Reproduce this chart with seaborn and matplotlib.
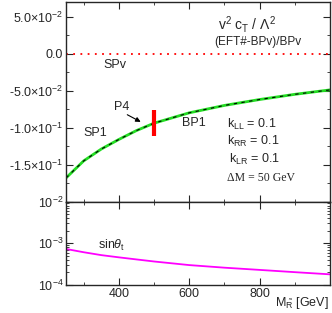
import numpy as np
import pandas as pd
import seaborn as sns
import matplotlib.pyplot as plt
from matplotlib.ticker import FixedLocator, MultipleLocator, LogLocator, NullFormatter

# ---------------- Data ----------------
mass = [250, 300, 350, 400, 450, 500, 600, 700, 800, 900, 1000]
ratio_sp1 = [-0.168, -0.145, -0.129, -0.116, -0.104, -0.094, -0.080, -0.070, -0.062, -0.055, -0.049]
ratio_spv = [0.0] * len(mass)
sin_theta = [7.3e-4, 6.1e-4, 5.2e-4, 4.6e-4, 4.1e-4, 3.66e-4, 3.0e-4, 2.6e-4, 2.3e-4, 2.03e-4, 1.8e-4]

p4_mass = 500
p4_band = [-0.111, -0.076]

top_yticks = [0.05, 0.0, -0.05, -0.10, -0.15]
top_ylabels = ['5.0×10$^{-2}$', '0.0', '-5.0×10$^{-2}$',
               '-1.0×10$^{-1}$', '-1.5×10$^{-1}$']
x_ticks = [400, 600, 800]

df = pd.DataFrame({"M": mass, "sp1": ratio_sp1, "spv": ratio_spv, "sin": sin_theta})

# ---------------- Style ----------------
sns.set_style("ticks")
plt.rcParams['font.family'] = ['Liberation Sans', 'DejaVu Sans']
plt.rcParams['mathtext.fontset'] = 'custom'
plt.rcParams['mathtext.rm'] = 'Liberation Sans'
plt.rcParams['mathtext.it'] = 'Liberation Sans:italic'
plt.rcParams['font.size'] = 9

fig = plt.figure(figsize=(3.32, 3.13), dpi=100)
ax1 = fig.add_axes([0.199, 0.356, 0.795, 0.638])
ax2 = fig.add_axes([0.199, 0.0895, 0.795, 0.2665])

# ---------------- Top panel ----------------
sns.lineplot(data=df, x="M", y="spv", ax=ax1, color="red", linestyle=(0, (1, 3)), linewidth=1.3)
sns.lineplot(data=df, x="M", y="sp1", ax=ax1, color="#22dd22", linewidth=2.0)
sns.lineplot(data=df, x="M", y="sp1", ax=ax1, color="black", linestyle=(0, (3, 4)), linewidth=0.8)
ax1.plot([p4_mass, p4_mass], p4_band, color="red", linewidth=3, solid_capstyle="butt")

ax1.set_xlim(250, 1000)
ax1.set_ylim(-0.2, 0.07)
ax1.yaxis.set_major_locator(FixedLocator(top_yticks))
ax1.set_yticklabels(top_ylabels)
ax1.yaxis.set_minor_locator(MultipleLocator(0.025))
ax1.xaxis.set_major_locator(FixedLocator(x_ticks))
ax1.xaxis.set_minor_locator(MultipleLocator(100))
ax1.set_xticklabels([])
ax1.set_xlabel("")
ax1.set_ylabel("")

ax1.text(389, -0.016, "SPv", ha="center", va="center", fontsize=9)
ax1.text(332, -0.1075, "SP1", ha="center", va="center", fontsize=9)
ax1.text(614, -0.094, "BP1", ha="center", va="center", fontsize=9)
ax1.text(408, -0.0718, "P4", ha="center", va="center", fontsize=9)
ax1.annotate("", xy=(469, -0.094), xytext=(417, -0.0808),
             arrowprops=dict(arrowstyle="-|>", color="black", lw=0.8, mutation_scale=7))
ax1.text(765, 0.040, r"v$^2$ c$_{\rm T}$ / $\Lambda^2$", ha="center", va="center", fontsize=10)
ax1.text(796, 0.0153, "(EFT#-BPv)/BPv", ha="center", va="center", fontsize=8.5)
ax1.text(777, -0.0964, r"k$_{\rm LL}$ = 0.1", ha="center", va="center", fontsize=9)
ax1.text(782, -0.119, r"k$_{\rm RR}$ = 0.1", ha="center", va="center", fontsize=9)
ax1.text(784, -0.143, r"k$_{\rm LR}$ = 0.1", ha="center", va="center", fontsize=9)
ax1.text(805, -0.168, "ΔM = 50 GeV", ha="center", va="center", fontsize=8.5,
         family=["Liberation Serif", "DejaVu Serif"])

# ---------------- Bottom panel ----------------
sns.lineplot(data=df, x="M", y="sin", ax=ax2, color="#ff00ff", linewidth=1.3)
ax2.set_yscale("log")
ax2.set_xlim(250, 1000)
ax2.set_ylim(1e-4, 1e-2)
ax2.yaxis.set_major_locator(LogLocator(base=10, numticks=5))
ax2.yaxis.set_minor_locator(LogLocator(base=10, subs=np.arange(2, 10), numticks=20))
ax2.yaxis.set_minor_formatter(NullFormatter())
ax2.xaxis.set_major_locator(FixedLocator(x_ticks))
ax2.xaxis.set_minor_locator(MultipleLocator(100))
ax2.set_ylabel("")
ax2.set_xlabel("")
fig.text(329 / 332, 1 - 303 / 313, r"M$_{\tilde{\rm R}}$ [GeV]", ha="right", va="center", fontsize=9)
ax2.text(380, 9.1e-4, r"sin$\theta_{\rm t}$", ha="center", va="center", fontsize=9)

for ax in (ax1, ax2):
    ax.tick_params(which="both", direction="in", top=True, right=True, labelsize=9, pad=2)
    ax.tick_params(which="major", length=5, width=0.8)
    ax.tick_params(which="minor", length=2.5, width=0.6)
    for s in ax.spines.values():
        s.set_linewidth(1.0)

fig.savefig("out.png", dpi=100)
